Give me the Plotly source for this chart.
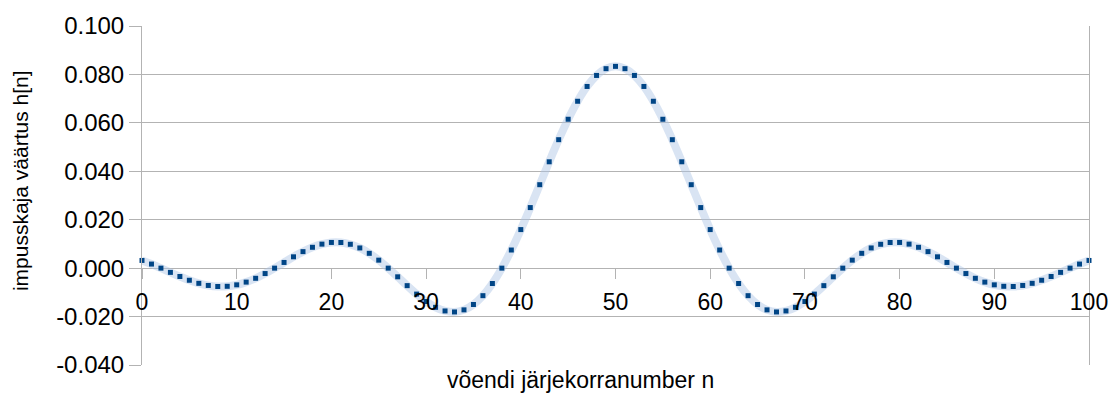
import plotly.graph_objects as go

# Sample index of the impulse response
n = list(range(101))

# Impulse response values h[n] for n = 0 .. 50 (the response is symmetric about n = 50)
h_first_half = [
    0.00318, 0.00168, 0.00000, -0.00175, -0.00346, -0.00500, -0.00627, -0.00715,
    -0.00758, -0.00750, -0.00689, -0.00577, -0.00419, -0.00223, 0.00000, 0.00235,
    0.00468, 0.00682, 0.00861, 0.00992, 0.01061, 0.01060, 0.00985, 0.00834,
    0.00612, 0.00330, 0.00000, -0.00358, -0.00723, -0.01072, -0.01378, -0.01618,
    -0.01768, -0.01809, -0.01723, -0.01501, -0.01137, -0.00634, 0.00000, 0.00749,
    0.01592, 0.02501, 0.03446, 0.04392, 0.05305, 0.06149, 0.06892, 0.07503,
    0.07958, 0.08238, 0.08333,
]
h = h_first_half + h_first_half[-2::-1]

y_ticks = [-0.04, -0.02, 0.0, 0.02, 0.04, 0.06, 0.08, 0.10]
y_tick_text = ["-0.040", "-0.020", "0.000", "0.020", "0.040", "0.060", "0.080", "0.100"]
x_ticks = [0, 10, 20, 30, 40, 50, 60, 70, 80, 90, 100]

x_title = "võendi järjekorranumber n"
y_title = "impusskaja väärtus h[n]"

FONT = "Liberation Sans, Arial, sans-serif"
GRID = "#b3b3b3"

y_min, y_max = -0.04, 0.10

# plot-area geometry in pixels
W, H = 1120, 394
ML, MR, MT, MB = 142, 24, 22, 29
pw, ph = W - ML - MR, H - MT - MB


def px_x(x):
    return (x - ML) / pw


def px_y(y):
    return (H - MB - y) / ph


fig = go.Figure()

# soft wide trace behind the samples
fig.add_trace(go.Scatter(
    x=n, y=h, mode="lines",
    line=dict(color="rgba(170,195,228,0.45)", width=8, shape="spline"),
    hoverinfo="skip", cliponaxis=False,
))
# the samples themselves
fig.add_trace(go.Scatter(
    x=n, y=h, mode="markers",
    marker=dict(symbol="square", size=5, color="#004586", line=dict(width=0)),
    cliponaxis=False,
))

fig.update_layout(
    width=W, height=H,
    margin=dict(l=ML, r=MR, t=MT, b=MB),
    paper_bgcolor="white", plot_bgcolor="white",
    showlegend=False,
    font=dict(family=FONT, color="black"),
    xaxis=dict(
        range=[0, 100], tickvals=x_ticks,
        showgrid=False, zeroline=False, showline=False,
        anchor="free", position=(0 - y_min) / (y_max - y_min),
        ticks="outside", ticklen=10, tickcolor=GRID, tickwidth=1,
        ticklabelstandoff=3,
        tickfont=dict(size=23, family=FONT, color="black"),
    ),
    yaxis=dict(
        range=[y_min, y_max], tickvals=y_ticks, ticktext=y_tick_text,
        showgrid=True, gridcolor=GRID, gridwidth=1, zeroline=False,
        showline=True, linecolor=GRID, linewidth=1, mirror=True,
        ticks="outside", ticklen=12, tickcolor=GRID, tickwidth=1,
        tickfont=dict(size=24, family=FONT, color="black"),
    ),
    annotations=[
        dict(text=x_title, x=px_x(584), y=px_y(380), xref="paper", yref="paper",
             xanchor="center", yanchor="middle",
             showarrow=False, font=dict(size=23, family=FONT, color="black")),
        dict(text=y_title, x=px_x(19), y=px_y(178), xref="paper", yref="paper",
             xanchor="center", yanchor="middle",
             textangle=-90, showarrow=False,
             font=dict(size=21, family=FONT, color="black")),
    ],
)

fig.write_html("out.html")
